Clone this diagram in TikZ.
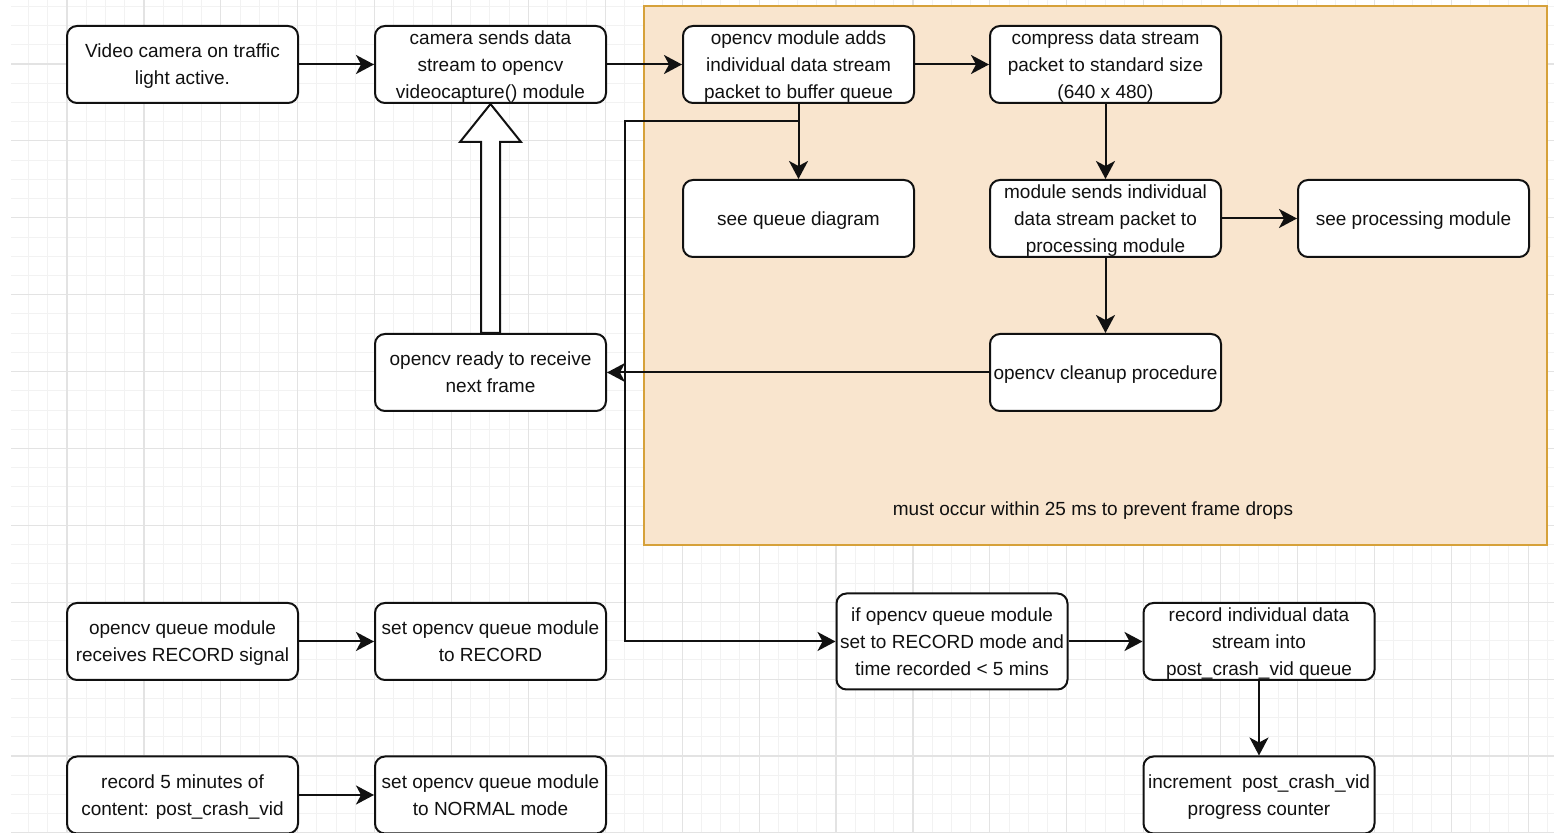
\documentclass[tikz,border=0pt]{standalone}
\usepackage{fontspec}
\setmainfont{Liberation Sans}
\usetikzlibrary{arrows.meta,calc}

\definecolor{gridminor}{HTML}{F2F2F2}
\definecolor{gridmajor}{HTML}{E3E3E3}
\definecolor{zonefill}{HTML}{F9E5CE}
\definecolor{zoneline}{HTML}{D6A13A}
\definecolor{ink}{HTML}{111111}

\tikzset{
  stepbox/.style={draw=ink, line width=1pt, fill=white, rounded corners=5pt,
    minimum width=115.5pt, minimum height=38.5pt, inner sep=0pt,
    text depth=-2.4pt,
    align=center, text=ink, font=\fontsize{9.5pt}{13.5pt}\selectfont},
  arr/.style={draw=ink, line width=1pt,
    -{Stealth[length=9pt, width=9.5pt, inset=2.5pt]}},
  hollow/.style={draw=ink, line width=1pt, fill=white, line join=miter},
  minorline/.style={draw=gridminor, line width=0.5pt},
  majorline/.style={draw=gridmajor, line width=0.6pt},
}

\begin{document}
\begin{tikzpicture}[x=0.5pt, y=-0.5pt]
\useasboundingbox (0,0) rectangle (1554,833);
\fill[white] (0,0) rectangle (1554,833);

% background grid
\begin{scope}
  \clip (11,0) rectangle (1554,833);
  \foreach \i in {0,...,80} {
    \draw[minorline] ({28.55+\i*19.225},0) -- ++(0,833);
  }
  \foreach \i in {0,...,44} {
    \draw[minorline] (0,{6.325+\i*19.225}) -- ++(1554,0);
  }
  \foreach \i in {0,...,19} {
    \draw[majorline] ({67+\i*76.9},0) -- ++(0,833);
  }
  \foreach \i in {0,...,10} {
    \draw[majorline] (0,{64+\i*76.9}) -- ++(1554,0);
  }
\end{scope}

% timing zone
\node[draw=zoneline, fill=zonefill, line width=1pt, minimum width=451.5pt,
      minimum height=269.5pt, inner sep=0pt] (zone) at (1095.5,275.5) {};
\node[text=ink, font=\fontsize{9.5pt}{13.5pt}\selectfont] (zonelabel) at (1093,511)
  {must occur within 25 ms to prevent frame drops};

% capture pipeline
\node[stepbox] (n1) at (182.5,64.5) {Video camera on traffic\\light active.};
\node[stepbox] (n2) at (490.5,64.5) {camera sends data\\stream to opencv\\videocapture() module};
\node[stepbox] (n3) at (798.5,64.5) {opencv module adds\\individual data stream\\packet to buffer queue};
\node[stepbox] (n4) at (1105.5,64.5) {compress data stream\\packet to standard size\\(640 x 480)};
\node[stepbox] (n5) at (798.5,218.5) {see queue diagram};
\node[stepbox] (n6) at (1105.5,218.5) {module sends individual\\data stream packet to\\processing module};
\node[stepbox] (n7) at (1413.5,218.5) {see processing module};
\node[stepbox] (n8) at (1105.5,372.5) {opencv cleanup procedure};
\node[stepbox] (n9) at (490.5,372.5) {opencv ready to receive\\next frame};

% recording
\node[stepbox] (n10) at (182.5,641.5) {opencv queue module\\receives RECORD signal};
\node[stepbox] (n11) at (490.5,641.5) {set opencv queue module\\to RECORD};
\node[stepbox, minimum height=48pt] (n12) at (952,641.5) {if opencv queue module\\set to RECORD mode and\\time recorded < 5 mins};
\node[stepbox] (n13) at (1259,641.5) {record individual data\\stream into\\post\_crash\_vid queue};
\node[stepbox] (n14) at (1259,795) {increment\ \ post\_crash\_vid\\progress counter};
\node[stepbox] (n15) at (182.5,795) {record 5 minutes of\\content: post\_crash\_vid};
\node[stepbox] (n16) at (490.5,795) {set opencv queue module\\to NORMAL mode};

% connectors
\draw[arr] (n1) -- (n2);
\draw[arr] (n2) -- (n3);
\draw[arr] (n3) -- (n4);
\draw[arr] (n4) -- (n6);
\draw[arr] (n3.south) -- (n5.north);
\draw[arr] (n6) -- (n7);
\draw[arr] (n6) -- (n8);
\coordinate (tap) at (625,121.5);
\draw[arr] (n3.south) |- (tap) |- (n12.west);
\draw[arr] (n8.west) -- (n9.east);
\draw[arr] (n10) -- (n11);
\draw[arr] (n12.east) -- (n13.west);
\draw[arr] (n13) -- (n14);
\draw[arr] (n15) -- (n16);

% return to capture
\draw[hollow] ($(n9.north)+(-9.5,0)$) -- ($(n2.south)+(-9.5,38)$)
  -- ($(n2.south)+(-30.5,38)$) -- (n2.south) -- ($(n2.south)+(30.5,38)$)
  -- ($(n2.south)+(9.5,38)$) -- ($(n9.north)+(9.5,0)$) -- cycle;
\end{tikzpicture}
\end{document}
